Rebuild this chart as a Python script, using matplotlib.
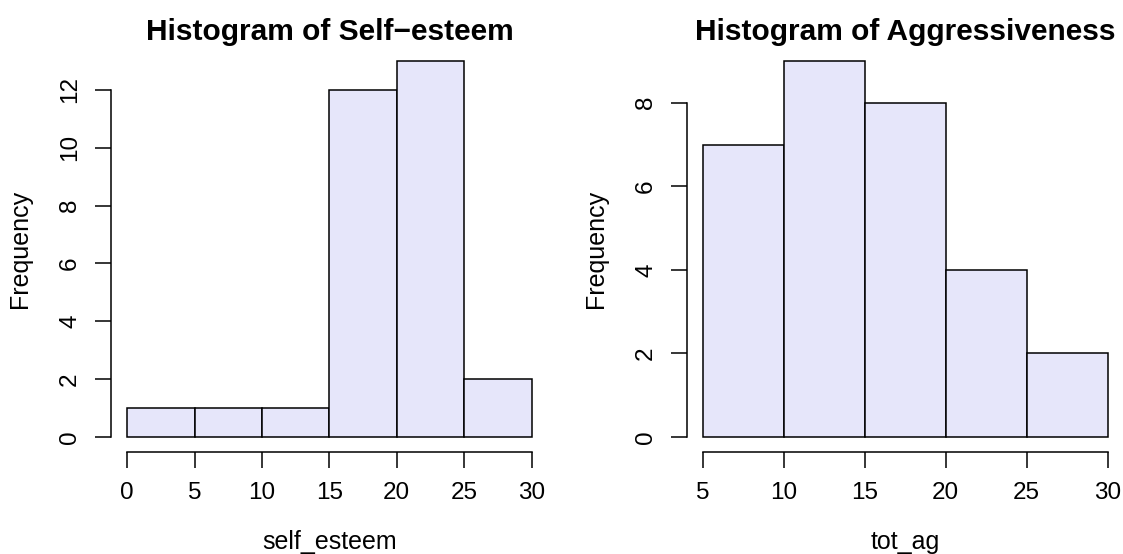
import numpy as np
import matplotlib.pyplot as plt

plt.rcParams['font.family'] = ['Liberation Sans', 'DejaVu Sans']

# self-esteem histogram
se_edges = [0, 5, 10, 15, 20, 25, 30]
se_counts = [1, 1, 1, 12, 13, 2]
se_yticks = [0, 2, 4, 6, 8, 10, 12]

# aggressiveness histogram
ag_edges = [5, 10, 15, 20, 25, 30]
ag_counts = [7, 9, 8, 4, 2]
ag_yticks = [0, 2, 4, 6, 8]

fig = plt.figure(figsize=(11.23, 5.54), dpi=100)
ax1 = fig.add_axes([0.0988, 0.184, 0.389, 0.733])
ax2 = fig.add_axes([0.6117, 0.184, 0.389, 0.733])


def r_hist(ax, edges, counts, yticks, title, xlab):
    edges = np.array(edges)
    counts = np.array(counts)
    ax.bar(edges[:-1], counts, width=np.diff(edges), align='edge',
           color='#E6E6FA', edgecolor='black', linewidth=1.1)
    # R style 4% padding
    xr = edges[-1] - edges[0]
    ax.set_xlim(edges[0] - 0.04 * xr, edges[-1] + 0.04 * xr)
    ym = counts.max()
    ax.set_ylim(-0.04 * ym, ym * 1.04)
    for s in ['top', 'right']:
        ax.spines[s].set_visible(False)
    ax.spines['bottom'].set_bounds(edges[0], edges[-1])
    ax.spines['left'].set_bounds(yticks[0], yticks[-1])
    ax.spines['bottom'].set_linewidth(1.1)
    ax.spines['left'].set_linewidth(1.1)
    ax.set_xticks(edges)
    ax.set_yticks(yticks)
    ax.tick_params(axis='both', direction='out', length=11.5, width=1.1, labelsize=17.5)
    ax.tick_params(axis='x', pad=10)
    ax.tick_params(axis='y', pad=10)
    for lab in ax.get_yticklabels():
        lab.set_rotation(90)
        lab.set_va('center')
    ax.set_title(title, fontsize=21.5, fontweight='bold', pad=4)
    ax.set_xlabel(xlab, fontsize=18)
    ax.set_ylabel('Frequency', fontsize=18)
    ax.xaxis.set_label_coords(0.5, -0.193)
    ax.yaxis.set_label_coords(-0.181, 0.5)


r_hist(ax1, se_edges, se_counts, se_yticks, 'Histogram of Self\u2212esteem', 'self_esteem')
r_hist(ax2, ag_edges, ag_counts, ag_yticks, 'Histogram of Aggressiveness', 'tot_ag')

fig.savefig('out.png', dpi=100)
